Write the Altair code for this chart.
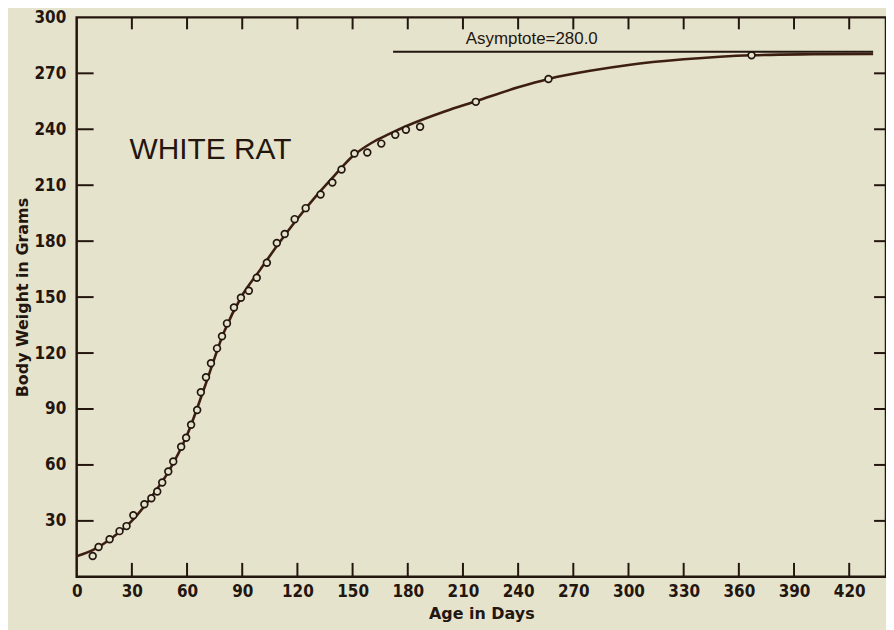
import altair as alt
import pandas as pd

# ---- data ----
obs_age = [8.7, 11.9, 17.9, 23.3, 27.1, 30.8, 36.8, 40.6, 43.8, 46.5, 49.8, 52.5,
           56.8, 59.5, 62.2, 65.5, 67.5, 70.3, 73.0, 76.3, 79.0, 81.7, 85.5, 89.3,
           93.6, 97.9, 103.4, 108.8, 113.1, 118.5, 124.5, 132.6, 139.0, 144.0,
           151.0, 158.0, 165.6, 173.2, 179.0, 186.7, 217.0, 256.5, 366.9]
obs_weight = [11.2, 16.0, 20.2, 24.5, 27.2, 33.0, 38.9, 42.1, 45.8, 50.6, 56.5, 61.8,
              69.8, 74.6, 81.5, 89.5, 99.0, 107.0, 114.5, 122.5, 129.0, 135.9, 144.4, 149.7,
              153.4, 160.4, 168.4, 179.0, 183.8, 191.8, 197.7, 205.0, 211.5, 218.4,
              227.0, 227.5, 232.3, 237.0, 239.7, 241.3, 254.7, 267.0, 279.7]

curve_age = [0, 10, 20, 30, 40, 50, 60, 70, 80, 90, 100, 110, 120, 130, 140, 150,
             160, 170, 180, 200, 217, 240, 256.5, 280, 300, 330, 367, 400, 433]
curve_weight = [11.0, 15.0, 21.5, 30.0, 42.0, 56.5, 76.0, 103.0, 131.0, 151.0, 165.0,
                179.0, 192.0, 204.0, 215.0, 225.5, 232.5, 237.5, 242.0, 249.5, 255.0,
                262.5, 267.0, 271.5, 274.5, 277.5, 279.7, 280.2, 280.4]

asymptote = 280.0
asymptote_from = 172
asymptote_to = 433

x_ticks = [0, 30, 60, 90, 120, 150, 180, 210, 240, 270, 300, 330, 360, 390, 420]
y_ticks = [30, 60, 90, 120, 150, 180, 210, 240, 270, 300]

title_text = "WHITE RAT"
title_age, title_weight = 28.7, 224
asym_label = "Asymptote=280.0"
asym_label_age, asym_label_weight = 211.5, 285.5

# ---- styling ----
W, H = 813, 562
BG = "#e6e3cd"
INK = "#23160f"
LINE = "#3d1f12"
FONT = "Liberation Sans"
TITLEFONT = "DejaVu Sans"
NARROW = "Liberation Sans Narrow, DejaVu Sans Condensed, Liberation Sans, sans-serif"

xs = alt.Scale(domain=[0, 440], nice=False, zero=True)
ys = alt.Scale(domain=[0, 300], nice=False, zero=True)

curve_df = pd.DataFrame({"age": curve_age, "weight": curve_weight})
obs_df = pd.DataFrame({"age": obs_age, "weight": obs_weight})

curve = alt.Chart(curve_df).mark_line(
    color=LINE, strokeWidth=2.6, interpolate="monotone"
).encode(
    x=alt.X("age:Q", scale=xs, title="Age in Days",
            axis=alt.Axis(values=x_ticks, ticks=False, tickSize=0, domain=False, grid=False,
                          labelFont=NARROW, labelFontWeight="bold", labelFontSize=17,
                          labelColor=INK, labelPadding=7, labelFlush=False,
                          titleFont=TITLEFONT, titleFontWeight="bold", titleFontSize=16,
                          titleColor=INK, titlePadding=6)),
    y=alt.Y("weight:Q", scale=ys, title="Body Weight in Grams",
            axis=alt.Axis(values=y_ticks, ticks=False, tickSize=0, domain=False, grid=False,
                          labelFont=NARROW, labelFontWeight="bold", labelFontSize=17,
                          labelColor=INK, labelPadding=11, labelFlush=False,
                          titleFont=TITLEFONT, titleFontWeight="bold", titleFontSize=16,
                          titleColor=INK, titlePadding=3)),
)

points = alt.Chart(obs_df).mark_point(
    shape="circle", filled=False, fill=BG, fillOpacity=1, stroke=INK,
    strokeWidth=1.7, size=46, opacity=1
).encode(
    x=alt.X("age:Q", scale=xs),
    y=alt.Y("weight:Q", scale=ys),
)

asym_df = pd.DataFrame({"a": [asymptote_from], "b": [asymptote_to], "w": [asymptote]})
asym = alt.Chart(asym_df).mark_rule(color=INK, strokeWidth=2, yOffset=-3).encode(
    x=alt.X("a:Q", scale=xs), x2="b:Q",
    y=alt.Y("w:Q", scale=ys),
)

label_df = pd.DataFrame({"age": [title_age], "weight": [title_weight], "t": [title_text]})
title_mark = alt.Chart(label_df).mark_text(
    font=FONT, fontSize=30, color=INK, align="left", baseline="alphabetic"
).encode(
    x=alt.X("age:Q", scale=xs),
    y=alt.Y("weight:Q", scale=ys),
    text="t:N",
)

asym_lab_df = pd.DataFrame({"age": [asym_label_age], "weight": [asym_label_weight], "t": [asym_label]})
asym_lab = alt.Chart(asym_lab_df).mark_text(
    font=FONT, fontSize=17, color=INK, align="left", baseline="alphabetic"
).encode(
    x=alt.X("age:Q", scale=xs),
    y=alt.Y("weight:Q", scale=ys),
    text="t:N",
)

xt_df = pd.DataFrame({"age": [v for v in x_ticks if v > 0]})
yt_df = pd.DataFrame({"weight": [v for v in y_ticks if v < 300]})

bottom_ticks = alt.Chart(xt_df).mark_rule(color=INK, strokeWidth=2).encode(
    x=alt.X("age:Q", scale=xs), y=alt.value(H), y2=alt.value(H - 14))
top_ticks = alt.Chart(xt_df).mark_rule(color=INK, strokeWidth=2).encode(
    x=alt.X("age:Q", scale=xs), y=alt.value(0), y2=alt.value(12))
left_ticks = alt.Chart(yt_df).mark_rule(color=INK, strokeWidth=2).encode(
    y=alt.Y("weight:Q", scale=ys), x=alt.value(0), x2=alt.value(17))
right_ticks = alt.Chart(yt_df).mark_rule(color=INK, strokeWidth=2).encode(
    y=alt.Y("weight:Q", scale=ys), x=alt.value(W), x2=alt.value(W - 12))

chart = alt.layer(
    curve, bottom_ticks, top_ticks, left_ticks, right_ticks,
    points, asym, title_mark, asym_lab
).properties(
    width=W, height=H,
    autosize=alt.AutoSizeParams(type="none"),
    padding={"left": 69, "top": 8, "right": 0, "bottom": 52},
    background=BG,
).configure_view(
    stroke=INK, strokeWidth=2.5
)

chart.save("out.html", embed_options={"renderer": "svg", "actions": False})
